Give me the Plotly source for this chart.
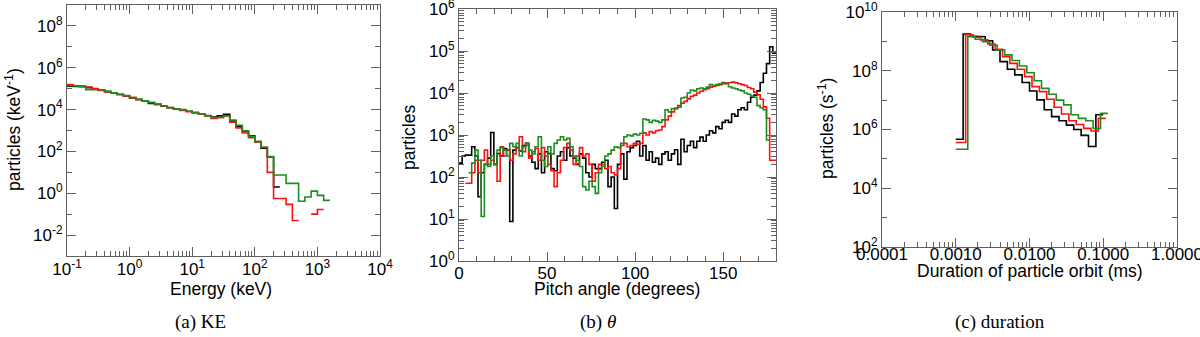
import numpy as np
import plotly.graph_objects as go

# ---------------- Panel (a): kinetic energy spectrum ----------------
ke_log_edge_start = -1.0     # log10(keV) of first bin edge
ke_log_bin_width = 0.1       # bins per decade: 10
# log10(particles / keV), one value per bin (None = empty bin)
ke_black = [5.12, 5.12, 5.10, 5.05, 4.97, 4.93, 4.86, 4.79, 4.72, 4.65,
            4.56, 4.48, 4.40, 4.29, 4.24, 4.16, 4.09, 4.03, 3.97, 3.92,
            3.86, 3.80, 3.72, 3.64, 3.70, 3.78, 3.45, 3.18, 2.95, 2.75,
            2.45, 2.15, 1.73, 0.30]
ke_red = [5.20, 5.15, 5.12, 5.08, 5.00, 4.92, 4.85, 4.78, 4.72, 4.66,
          4.57, 4.47, 4.40, 4.33, 4.25, 4.17, 4.10, 4.03, 3.96, 3.90,
          3.84, 3.78, 3.70, 3.58, 3.62, 3.70, 3.40, 3.12, 2.88, 2.65,
          2.45, 2.20, 1.00, -0.25, -0.25, -0.53, -1.30, None, None, -1.00,
          -0.78]
ke_green = [5.15, 5.12, 5.10, 4.95, 4.95, 4.95, 4.88, 4.80, 4.73, 4.67,
            4.58, 4.50, 4.42, 4.35, 4.27, 4.18, 4.10, 4.04, 4.00, 3.92,
            3.86, 3.80, 3.70, 3.62, 3.62, 3.70, 3.50, 3.25, 2.98, 2.72,
            2.48, 2.20, 1.75, 0.87, 0.87, 0.47, 0.47, -0.38, -0.18, 0.10,
            -0.10, -0.34]

# ---------------- Panel (b): pitch angle ----------------
pa_bin_width = 1.8   # degrees, 100 bins over 0-180
pa_black = [2.33, 2.50, 2.52, 2.52, 2.72, 2.50, 1.53, 2.10, 2.30, 2.45,
            3.06, 2.30, 2.56, 2.50, 2.68, 2.65, 0.94, 2.64, 2.70, 2.62,
            2.75, 2.80, 2.50, 2.35, 2.20, 2.55, 2.10, 2.60, 2.56, 2.20,
            2.15, 2.50, 2.60, 2.40, 2.70, 2.50, 2.45, 2.30, 2.55, 2.45,
            2.10, 2.00, 2.30, 2.20, 2.20, 2.35, 2.40, 1.77, 2.00, 1.25,
            2.30, 2.55, 1.95, 2.60, 2.70, 2.75, 2.85, 2.50, 2.75, 2.40,
            2.60, 2.35, 2.45, 2.30, 2.55, 2.60, 2.40, 2.55, 2.65, 2.30,
            2.90, 2.60, 2.75, 2.85, 2.70, 2.85, 2.95, 2.85, 3.00, 3.10,
            3.05, 3.20, 3.15, 3.30, 3.35, 3.30, 3.50, 3.45, 3.60, 3.65,
            3.60, 3.78, 3.90, 3.95, 4.05, 4.25, 4.47, 4.70, 5.10, 4.95]
pa_red = [None, None, 1.85, 1.85, 2.10, 2.40, 2.10, 2.40, 2.64, 2.30,
          2.40, 2.30, 1.90, 2.72, 2.50, 2.64, 2.40, 2.55, 2.70, 2.96,
          2.60, 2.75, 2.45, 2.60, 2.68, 2.40, 2.70, 2.50, 2.30, 2.15,
          1.77, 2.10, 2.40, 2.70, 2.80, 2.64, 2.30, 2.50, 2.70, 2.50,
          2.55, 2.30, 1.90, 2.10, 2.30, 2.30, 2.20, 2.25, 2.10, 2.05,
          2.20, 2.75, 2.80, 2.72, 2.75, 2.80, 2.78, 2.80, 3.05, 3.00,
          3.08, 3.05, 3.10, 3.12, 3.20, 3.36, 3.45, 3.55, 3.64, 3.70,
          3.76, 3.80, 3.86, 3.92, 3.95, 4.00, 4.04, 4.08, 4.10, 4.14,
          4.16, 4.18, 4.20, 4.22, 4.24, 4.25, 4.26, 4.24, 4.22, 4.20,
          4.18, 4.13, 4.10, 4.02, 3.96, 3.85, 3.67, 3.40, 2.40, 2.40]
pa_green = [None, None, None, 2.10, 2.33, 2.64, 2.40, 1.06, 2.30, 2.25,
            2.50, 2.30, 2.64, 2.70, 2.64, 2.50, 2.80, 2.72, 2.80, 2.50,
            2.72, 2.80, 2.64, 2.55, 2.72, 2.96, 2.40, 2.25, 2.72, 2.55,
            2.80, 2.88, 2.96, 2.88, 2.92, 2.72, 2.50, 2.40, 2.25, 1.77,
            1.69, 1.90, 1.77, 1.61, 2.10, 2.25, 2.50, 2.55, 2.64, 2.72,
            2.70, 2.80, 2.96, 3.00, 2.98, 3.02, 3.00, 3.04, 3.38, 3.36,
            3.30, 3.35, 3.33, 3.30, 3.36, 3.60, 3.55, 3.63, 3.62, 3.66,
            3.88, 3.90, 4.00, 4.07, 4.05, 4.10, 4.12, 4.10, 4.14, 4.20,
            4.18, 4.20, 4.22, 4.25, 4.22, 4.15, 4.12, 4.10, 4.07, 4.05,
            4.00, 3.97, 3.93, 3.90, 3.70, 3.65, 3.60, 2.88, None, None]

# ---------------- Panel (c): orbit duration ----------------
dur_log_first_edge = -3.0     # log10(ms)
dur_log_bin_width = 0.1
# log10 of the second edge of each series (bins are slightly offset)
dur_black_log_edge2 = -2.9
dur_red_log_edge2 = -2.866
dur_green_log_edge2 = -2.837
# log10(particles / s)
dur_black = [5.67, 9.25, 9.18, 9.16, 9.02, 8.71, 8.31, 8.05, 7.86, 7.60,
             7.31, 7.01, 6.67, 6.44, 6.30, 6.15, 6.00, 5.80, 5.42, 6.50]
dur_red = [5.56, 9.22, 9.14, 9.05, 8.91, 8.73, 8.48, 8.25, 8.05, 7.80,
           7.46, 7.29, 7.03, 6.76, 6.53, 6.30, 6.17, 6.04, 5.95, 6.38]
dur_green = [5.33, 9.16, 9.07, 8.99, 8.87, 8.71, 8.54, 8.35, 8.16, 7.93,
             7.66, 7.40, 7.20, 7.00, 6.84, 6.50, 6.38, 6.30, 6.04, 6.55]

BLACK, RED, GREEN = "#000000", "#ff1010", "#1e8c1e"


def step_xy(edges, logvals):
    xs, ys = [], []
    for i, v in enumerate(logvals):
        if v is None:
            if xs and xs[-1] is not None:
                xs.append(None)
                ys.append(None)
            continue
        xs += [edges[i], edges[i + 1]]
        ys += [10 ** v, 10 ** v]
    return xs, ys


def dur_edges(edge2, n):
    return [10 ** dur_log_first_edge] + [10 ** (edge2 + dur_log_bin_width * k) for k in range(n)]


fig = go.Figure()

# panel a
for vals, col in [(ke_black, BLACK), (ke_red, RED), (ke_green, GREEN)]:
    edges = [10 ** (ke_log_edge_start + ke_log_bin_width * k) for k in range(len(vals) + 1)]
    x, y = step_xy(edges, vals)
    fig.add_trace(go.Scatter(x=x, y=y, mode="lines", line=dict(color=col, width=1.6),
                             xaxis="x", yaxis="y", showlegend=False))

# panel b
for vals, col in [(pa_black, BLACK), (pa_red, RED), (pa_green, GREEN)]:
    edges = [pa_bin_width * k for k in range(len(vals) + 1)]
    x, y = step_xy(edges, vals)
    fig.add_trace(go.Scatter(x=x, y=y, mode="lines", line=dict(color=col, width=1.6),
                             xaxis="x2", yaxis="y2", showlegend=False))

# panel c
for vals, e2, col in [(dur_black, dur_black_log_edge2, BLACK),
                      (dur_red, dur_red_log_edge2, RED),
                      (dur_green, dur_green_log_edge2, GREEN)]:
    edges = dur_edges(e2, len(vals))
    x, y = step_xy(edges, vals)
    fig.add_trace(go.Scatter(x=x, y=y, mode="lines", line=dict(color=col, width=1.6),
                             xaxis="x3", yaxis="y3", showlegend=False))

AX = "#606060"
TICKFONT = dict(family="Liberation Sans, Arial, sans-serif", size=17, color="#000")


def sup(e):
    return "10<sup>%d</sup>" % e


def decade_minor(lo, hi):
    return [k * 10.0 ** d for d in range(lo, hi) for k in range(2, 10)]


common = dict(showline=True, linecolor=AX, linewidth=1, mirror="allticks",
              ticks="inside", ticklen=9, tickcolor=AX, tickwidth=1,
              showgrid=False, zeroline=False, tickfont=TICKFONT, automargin=False,
              ticklabeloverflow="allow")

H = 337.0
W = 1200.0


def dom_x(a, b):
    return [a / W, b / W]


def dom_y(top, bottom):
    return [1 - bottom / H, 1 - top / H]


fig.update_layout(
    width=1200, height=337, margin=dict(l=0, r=0, t=0, b=0, pad=0),
    plot_bgcolor="white", paper_bgcolor="white",
    xaxis=dict(common, type="log", domain=dom_x(67, 380), anchor="y", range=[-1, 4],
               tickvals=[10.0 ** e for e in range(-1, 5)],
               ticktext=[sup(e) for e in range(-1, 5)], ticklabelstandoff=-2,
               minor=dict(tickvals=decade_minor(-1, 4), ticks="inside", ticklen=5,
                          tickcolor=AX, showgrid=False)),
    yaxis=dict(common, type="log", domain=dom_y(5, 256), anchor="x", range=[-3, 9],
               tickvals=[10.0 ** e for e in range(-2, 9, 2)],
               ticktext=[sup(e) for e in range(-2, 9, 2)],
               minor=dict(tickvals=[10.0 ** e for e in range(-3, 10, 2)], ticks="inside",
                          ticklen=5, tickcolor=AX, showgrid=False)),
    xaxis2=dict(common, domain=dom_x(459, 776), anchor="y2", range=[0, 180],
                tickvals=[0, 50, 100, 150], ticklabelstandoff=-3,
                minor=dict(dtick=10, tick0=0, ticks="inside", ticklen=5, tickcolor=AX,
                           showgrid=False)),
    yaxis2=dict(common, type="log", domain=dom_y(9, 261), anchor="x2", range=[0, 6],
                tickvals=[10.0 ** e for e in range(0, 7)],
                ticktext=[sup(e) for e in range(0, 7)],
                minor=dict(tickvals=decade_minor(0, 6), ticks="inside", ticklen=5,
                           tickcolor=AX, showgrid=False)),
    xaxis3=dict(common, type="log", domain=dom_x(882, 1177), anchor="y3", range=[-4, 0],
                tickvals=[1e-4, 1e-3, 1e-2, 1e-1, 1.0],
                ticktext=["0.0001", "0.0010", "0.0100", "0.1000", "1.0000"],
                ticklabelstandoff=-8,
                minor=dict(tickvals=decade_minor(-4, 0), ticks="inside", ticklen=5,
                           tickcolor=AX, showgrid=False)),
    yaxis3=dict(common, type="log", domain=dom_y(12, 247), anchor="x3", range=[2, 10],
                tickvals=[10.0 ** e for e in range(2, 11, 2)],
                ticktext=[sup(e) for e in range(2, 11, 2)],
                minor=dict(tickvals=[10.0 ** e for e in range(3, 10, 2)], ticks="inside",
                           ticklen=5, tickcolor=AX, showgrid=False)),
)

TITLEFONT = dict(family="Liberation Sans, Arial, sans-serif", size=17.5, color="#000")
CAPFONT = dict(family="Liberation Serif, Times New Roman, serif", size=19, color="#000")


def ann(text, x, y, font, angle=0):
    fig.add_annotation(text=text, x=x / W, y=1 - y / H, xref="paper", yref="paper",
                       showarrow=False, font=font, textangle=angle,
                       xanchor="center", yanchor="middle")


ann("Energy (keV)", 221, 289, TITLEFONT)
ann("particles (keV<sup>-1</sup>)", 13, 130, TITLEFONT, -90)
ann("Pitch angle (degrees)", 617, 289, TITLEFONT)
ann("particles", 409, 138, TITLEFONT, -90)
ann("Duration of particle orbit (ms)", 1030, 271, TITLEFONT)
ann("particles (s<sup>-1</sup>)", 826, 129, TITLEFONT, -90)

ann("(a) KE", 200, 322, CAPFONT)
ann("(b) <i>θ</i>", 598, 322, CAPFONT)
ann("(c) duration", 1000, 322, CAPFONT)

fig.write_html("out.html", config={"displayModeBar": False},
               post_script="document.body.style.margin='0';document.body.style.overflow='hidden';")
